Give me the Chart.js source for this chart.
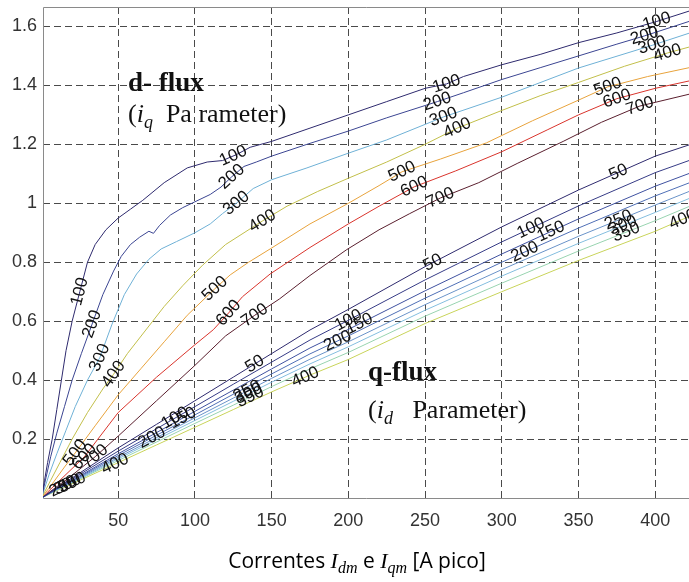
<!DOCTYPE html>
<html><head><meta charset="utf-8">
<script src="https://cdn.jsdelivr.net/npm/chart.js@4.4.1/dist/chart.umd.min.js"></script>
<style>html,body{margin:0;padding:0;background:#fff}canvas{display:block}</style>
</head><body>
<canvas id="c" width="689" height="582" style="width:689px;height:582px"></canvas>
<script>
// ---------- data ----------
const xTicks = [50,100,150,200,250,300,350,400];
const yTicks = [0.2,0.4,0.6,0.8,1.0,1.2,1.4,1.6];

// d-flux curves (iq parameter): [current, flux]
const dParams = [100,200,300,400,500,600,700];
const dFlux100 = [[0,0],[2,0.06],[4,0.12],[7,0.2],[10,0.3],[13,0.4],[16,0.5],[20,0.6],[25,0.7],[30,0.8],[35,0.86],[42,0.91],[50,0.95],[58,0.98],[66,1.01],[80,1.07],[95,1.12],[108,1.14],[118,1.145],[127,1.165],[136,1.19],[150,1.21],[175,1.255],[200,1.3],[225,1.345],[250,1.39],[264,1.405],[275,1.43],[300,1.47],[325,1.505],[350,1.545],[375,1.578],[401,1.617],[422,1.652]];
const dFlux200 = [[0,0],[3,0.07],[6,0.14],[10,0.22],[15,0.31],[20,0.4],[26,0.49],[33,0.59],[40,0.69],[47,0.77],[52,0.82],[58,0.86],[64,0.885],[70,0.905],[73,0.898],[77,0.925],[84,0.96],[92,0.985],[100,1.005],[110,1.03],[117,1.055],[124,1.09],[132,1.125],[140,1.14],[150,1.16],[173,1.2],[200,1.245],[225,1.29],[258,1.345],[275,1.375],[300,1.42],[325,1.46],[350,1.5],[375,1.54],[393,1.568],[422,1.617]];
const dFlux300 = [[0,0],[5,0.08],[10,0.15],[16,0.23],[22,0.31],[30,0.4],[38,0.476],[46,0.59],[54,0.69],[62,0.76],[70,0.81],[78,0.845],[88,0.87],[100,0.9],[110,0.93],[118,0.965],[127,1.0],[138,1.05],[150,1.08],[173,1.12],[200,1.17],[225,1.215],[262,1.293],[300,1.36],[350,1.459],[398,1.536],[422,1.577]];
const dFlux400 = [[0,0],[6,0.06],[12,0.12],[20,0.2],[30,0.29],[40,0.37],[47,0.42],[56,0.49],[68,0.57],[80,0.65],[92,0.72],[105,0.79],[120,0.86],[132,0.9],[144,0.94],[160,0.99],[180,1.04],[200,1.085],[225,1.14],[250,1.2],[271,1.255],[300,1.315],[325,1.365],[350,1.41],[380,1.465],[408,1.51],[422,1.53]];
const dFlux500 = [[0,0],[8,0.055],[15,0.105],[22,0.153],[35,0.245],[50,0.35],[65,0.44],[80,0.53],[95,0.62],[113,0.71],[123,0.757],[135,0.8],[149,0.845],[175,0.93],[200,1.0],[220,1.06],[235,1.107],[260,1.15],[290,1.205],[320,1.28],[350,1.35],[369,1.395],[395,1.43],[422,1.46]];
const dFlux600 = [[0,0],[14,0.07],[28,0.14],[50,0.29],[75,0.41],[100,0.52],[112,0.571],[122,0.628],[131,0.683],[149,0.76],[175,0.85],[200,0.93],[220,0.99],[243,1.056],[270,1.11],[300,1.175],[330,1.25],[350,1.3],[375,1.355],[400,1.39],[422,1.415]];
const dFlux700 = [[0,0],[17,0.065],[35,0.14],[50,0.21],[75,0.33],[100,0.45],[120,0.55],[139,0.62],[155,0.675],[175,0.755],[199,0.843],[220,0.91],[240,0.965],[260,1.018],[285,1.07],[310,1.135],[340,1.21],[365,1.275],[390,1.33],[422,1.37]];

// q-flux curves (id parameter), sampled at qCurrent
const qParams = [50,100,150,200,250,300,350,400];
const qCurrent = [0,10,25,50,75,100,125,150,175,200,250,300,350,400,422];
const qFlux50  = [0,0.035,0.085,0.17,0.25,0.33,0.41,0.49,0.57,0.64,0.785,0.92,1.045,1.16,1.198];
const qFlux100 = [0,0.033,0.080,0.159,0.235,0.310,0.386,0.461,0.536,0.603,0.740,0.869,0.991,1.104,1.145];
const qFlux150 = [0,0.031,0.075,0.150,0.222,0.294,0.366,0.438,0.509,0.572,0.703,0.828,0.947,1.058,1.101];
const qFlux200 = [0,0.030,0.072,0.144,0.213,0.282,0.352,0.421,0.489,0.550,0.678,0.800,0.916,1.025,1.069];
const qFlux250 = [0,0.029,0.069,0.138,0.205,0.272,0.339,0.406,0.471,0.530,0.656,0.775,0.888,0.994,1.040];
const qFlux300 = [0,0.028,0.066,0.133,0.198,0.263,0.328,0.393,0.455,0.513,0.637,0.753,0.864,0.969,1.016];
const qFlux350 = [0,0.026,0.064,0.127,0.190,0.253,0.315,0.378,0.438,0.494,0.617,0.729,0.838,0.941,0.989];
const qFlux400 = [0,0.025,0.060,0.120,0.180,0.240,0.300,0.360,0.417,0.470,0.592,0.700,0.806,0.905,0.955];

// contour label locations (current value along each curve)
const dLabelAt = {100:[25,125,264,401],200:[33,124,258,393],300:[38,127,262,398],400:[47,144,271,408],500:[22,113,235,369],600:[28,122,243,375],700:[35,139,260,390]};
const qLabelAt = {50:[139,255,376],100:[87,200,319],150:[92,207,332],200:[72,193,315],250:[14,134,376],300:[17,135,379],350:[20,136,381],400:[48,172,418]};

// ---------- styles ----------
const dColors = ['#2e2a6e','#3b4592','#6fb1d6','#c2bf4a','#e8a33c','#d9342c','#5a1f2e'];
const qColors = ['#2e2a6e','#363b86','#3f51a0','#4f6fb6','#6a93c9','#84bedf','#98d4b0','#c9d45a'];

const dSeries = [dFlux100,dFlux200,dFlux300,dFlux400,dFlux500,dFlux600,dFlux700];
const qSeries = [qFlux50,qFlux100,qFlux150,qFlux200,qFlux250,qFlux300,qFlux350,qFlux400];

const datasets = [];
qSeries.forEach((ys,i)=>datasets.push({label:'q '+qParams[i],data:ys.map((y,j)=>({x:qCurrent[j],y})),borderColor:qColors[i],kind:'q',param:qParams[i]}));
dSeries.forEach((pts,i)=>datasets.push({label:'d '+dParams[i],data:pts.map(p=>({x:p[0],y:p[1]})),borderColor:dColors[i],kind:'d',param:dParams[i]}));

function interp(data,x){
  for(let i=1;i<data.length;i++){
    if(x<=data[i].x){const a=data[i-1],b=data[i];return a.y+(b.y-a.y)*(x-a.x)/(b.x-a.x);}
  }
  return data[data.length-1].y;
}

const framePlugin = {
  id:'frame',
  beforeDatasetsDraw(chart){
    const {ctx,chartArea:a}=chart;
    ctx.save();ctx.strokeStyle='#8a8a8a';ctx.lineWidth=1;
    const l=Math.round(a.left)+0.5,t=Math.round(a.top)+0.5,r=Math.round(a.right)+1,b=Math.round(a.bottom)+0.5;
    ctx.beginPath();ctx.moveTo(r,t);ctx.lineTo(l,t);ctx.lineTo(l,b);ctx.lineTo(r,b);ctx.stroke();ctx.restore();
  }
};

const labelPlugin = {
  id:'clabels',
  afterDatasetsDraw(chart){
    const {ctx,chartArea:a,scales:{x:sx,y:sy}}=chart;
    ctx.save();
    ctx.beginPath();ctx.rect(a.left,a.top,a.right-a.left,a.bottom-a.top);ctx.clip();
    ctx.font='17px "Liberation Sans", Arial, sans-serif';
    ctx.fillStyle='#111';ctx.textAlign='center';ctx.textBaseline='middle';
    chart.data.datasets.forEach(ds=>{
      const at=(ds.kind==='d'?dLabelAt:qLabelAt)[ds.param]||[];
      at.forEach(lx=>{
        const px=sx.getPixelForValue(lx),py=sy.getPixelForValue(interp(ds.data,lx));
        const x0=sx.getPixelForValue(lx-4),y0=sy.getPixelForValue(interp(ds.data,Math.max(0,lx-4)));
        const x1=sx.getPixelForValue(lx+4),y1=sy.getPixelForValue(interp(ds.data,lx+4));
        const ang=Math.atan2(y1-y0,x1-x0);
        ctx.save();ctx.translate(px,py);ctx.rotate(ang);ctx.fillText(String(ds.param),0,0);ctx.restore();
      });
    });
    ctx.restore();
  }
};

function drawRuns(ctx,runs,x,y){
  runs.forEach(r=>{ctx.font=r.font;ctx.fillText(r.t,x,y+(r.dy||0));x+=ctx.measureText(r.t).width;});
  return x;
}
function runsWidth(ctx,runs){let w=0;runs.forEach(r=>{ctx.font=r.font;w+=ctx.measureText(r.t).width;});return w;}

const textPlugin = {
  id:'texts',
  afterDraw(chart){
    const ctx=chart.ctx;
    ctx.save();ctx.fillStyle='#111';ctx.textAlign='left';ctx.textBaseline='alphabetic';
    const serif='"Liberation Serif","Times New Roman",serif';
    const B='bold 27px '+serif, R='26px '+serif, I='italic 26px '+serif, S='italic 18px '+serif;
    drawRuns(ctx,[{t:'d- flux',font:B}],128,91);
    drawRuns(ctx,[{t:'(',font:R},{t:'i',font:I},{t:'q',font:S,dy:6},{t:'  Pa rameter)',font:R}],128,122);
    drawRuns(ctx,[{t:'q-flux',font:B}],368,380);
    drawRuns(ctx,[{t:'(',font:R},{t:'i',font:I},{t:'d',font:S,dy:6},{t:'   Parameter)',font:R}],368,418);
    // x axis title
    const sans='21px "Open Sans","Liberation Sans",sans-serif';
    const mi='italic 22px "Liberation Serif",serif', ms='italic 16px "Liberation Serif",serif';
    const runs=[{t:'Correntes ',font:sans},{t:'I',font:mi},{t:'dm',font:ms,dy:5},{t:' e ',font:sans},{t:'I',font:mi},{t:'qm',font:ms,dy:5},{t:' [A pico]',font:sans}];
    ctx.fillStyle='#000';
    drawRuns(ctx,runs,357-runsWidth(ctx,runs)/2,568);
    ctx.restore();
  }
};

const tickFont={family:'"Liberation Sans", Arial, sans-serif',size:18};
new Chart(document.getElementById('c'),{
  type:'scatter',
  data:{datasets},
  options:{
    responsive:false,animation:false,
    layout:{padding:{top:7,right:0,left:0,bottom:0}},
    plugins:{legend:{display:false},tooltip:{enabled:false}},
    datasets:{scatter:{showLine:true,borderWidth:1,pointRadius:0,tension:0}},
    scales:{
      x:{type:'linear',min:1,max:422,
        afterBuildTicks:s=>{s.ticks=xTicks.map(v=>({value:v}));},
        afterFit:s=>{s.height=84;s.paddingLeft=0;s.paddingRight=0;},
        grid:{color:'#4a4a4a',lineWidth:1,drawTicks:false},
        border:{display:false,dash:[7,4]},
        ticks:{padding:12,font:tickFont,color:'#333',maxRotation:0}},
      y:{type:'linear',min:0,max:1.666,
        afterBuildTicks:s=>{s.ticks=yTicks.map(v=>({value:v}));},
        afterFit:s=>{s.width=43;s.paddingTop=0;s.paddingBottom=0;},
        grid:{color:'#4a4a4a',lineWidth:1,drawTicks:false},
        border:{display:false,dash:[7,4]},
        ticks:{padding:6,font:tickFont,color:'#333',callback:v=>String(Math.round(v*10)/10)}}
    }
  },
  plugins:[framePlugin,labelPlugin,textPlugin]
});
</script>
</body></html>
